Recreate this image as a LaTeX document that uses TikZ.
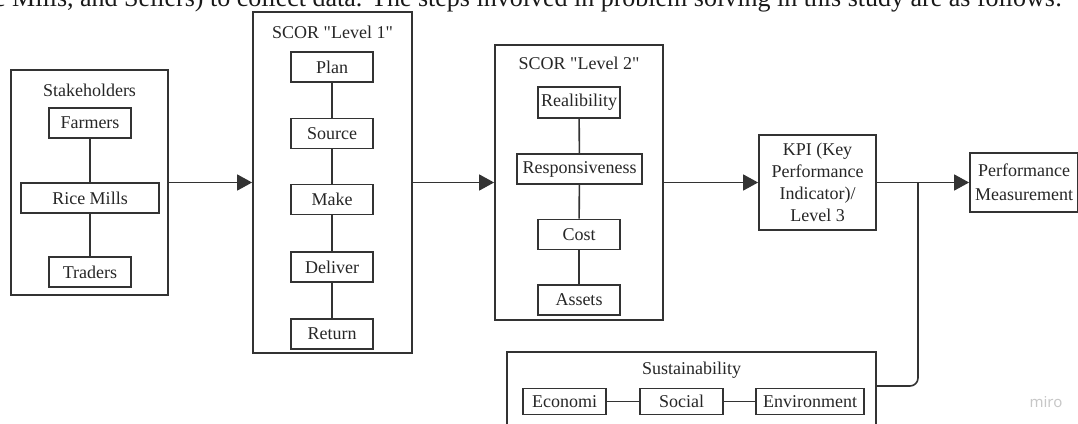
\documentclass[tikz,border=0pt]{standalone}
\usepackage{fontspec}
\setmainfont{Liberation Serif}
\newfontfamily\mirofont{Noto Sans}
\usetikzlibrary{arrows.meta}
\begin{document}
\begin{tikzpicture}[x=1pt,y=-1pt,
  every node/.style={font=\fontsize{18}{22}\selectfont, text=black!85},
  box/.style={draw=black!80, line width=1.8pt, inner sep=0pt, align=center},
  conn/.style={draw=black!80, line width=1.6pt},
  arr/.style={conn, -{Triangle[length=15pt,width=16pt]}},
  title/.style={inner sep=0pt},
]
\useasboundingbox (0,0) rectangle (1078,423);
\clip (0,0) rectangle (1078,423);
% cut-off text line at the top
\node[anchor=base west, font=\fontsize{26}{26}\selectfont, text=black!90, inner sep=0pt] (topline) at (-6,6) {e Mills, and Sellers) to collect data. The steps involved in problem solving in this study are as follows:};

% Stakeholders
\node[box, minimum width=157pt, minimum height=225pt] (stake) at (89.5,182.5) {};
\node[title] (staket) at (89.5,90) {Stakeholders};
\node[box, minimum width=82pt, minimum height=30pt] (farmers) at (90,123) {Farmers};
\node[box, minimum width=138pt, minimum height=30pt] (rice) at (90,198) {Rice Mills};
\node[box, minimum width=82pt, minimum height=30pt] (traders) at (90,272) {Traders};
\draw[conn] (farmers) -- (rice);
\draw[conn] (rice) -- (traders);

% SCOR Level 1
\node[box, minimum width=159pt, minimum height=341pt] (lone) at (332.5,182.5) {};
\node[title] (lonet) at (332.5,32) {SCOR \textquotedbl Level 1\textquotedbl};
\node[box, minimum width=82pt, minimum height=30pt] (plan) at (332,67) {Plan};
\node[box, minimum width=82pt, minimum height=30pt] (source) at (332,133.5) {Source};
\node[box, minimum width=82pt, minimum height=30pt] (make) at (332,199.5) {Make};
\node[box, minimum width=82pt, minimum height=30pt] (deliver) at (332,267) {Deliver};
\node[box, minimum width=82pt, minimum height=30pt] (return) at (332,334) {Return};
\draw[conn] (plan) -- (source);
\draw[conn] (source) -- (make);
\draw[conn] (make) -- (deliver);
\draw[conn] (deliver) -- (return);

% SCOR Level 2
\node[box, minimum width=168pt, minimum height=275pt] (ltwo) at (579,182.5) {};
\node[title] (ltwot) at (579,63) {SCOR \textquotedbl Level 2\textquotedbl};
\node[box, minimum width=82pt, minimum height=31pt] (reali) at (579,102.5) {Realibility};
\node[box, minimum width=125pt, minimum height=30pt] (resp) at (579.5,169) {Responsiveness};
\node[box, minimum width=82pt, minimum height=30pt] (cost) at (579,234.5) {Cost};
\node[box, minimum width=82pt, minimum height=30pt] (assets) at (579,300) {Assets};
\draw[conn] (reali) -- (resp);
\draw[conn] (resp) -- (cost);
\draw[conn] (cost) -- (assets);

% KPI
\node[box, minimum width=117pt, minimum height=95pt] (kpi) at (817.5,182.5) {KPI (Key\\Performance\\Indicator)/\\Level 3};

% Performance Measurement
\node[box, minimum width=108pt, minimum height=59pt, font=\fontsize{18}{24}\selectfont] (perf) at (1024,182.5) {Performance\\Measurement};

% Sustainability
\node[box, minimum width=369pt, minimum height=88pt] (sust) at (691.5,396) {};
\node[title] (sustt) at (691.5,370) {Sustainability};
\node[box, minimum width=83pt, minimum height=26pt] (econ) at (564.5,401.5) {Economi};
\node[box, minimum width=83pt, minimum height=26pt] (social) at (681.5,401.5) {Social};
\node[box, minimum width=108pt, minimum height=26pt] (env) at (810,401.5) {Environment};
\draw[conn] (econ) -- (social);
\draw[conn] (social) -- (env);

% main flow
\draw[arr] (stake) -- (lone);
\draw[arr] (lone) -- (ltwo);
\draw[arr] (ltwo) -- (kpi);
\draw[arr] (kpi) -- (perf);

% sustainability feed
\coordinate (j) at (918,182.5);
\coordinate (sj) at (0,386);
\draw[conn, rounded corners=8pt] (sust.east |- sj) -| (j);

\node[font=\mirofont\fontsize{15}{15}\selectfont, text=black!22] (miro) at (1046,402) {miro};
\end{tikzpicture}
\end{document}
